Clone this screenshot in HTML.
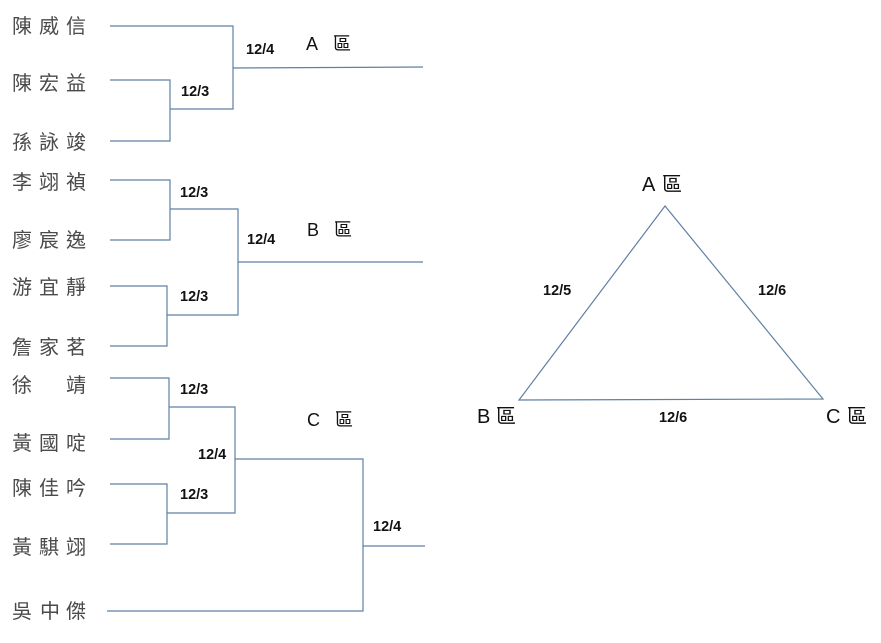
<!DOCTYPE html>
<html><head><meta charset="utf-8">
<style>
html,body{margin:0;padding:0;background:#fff;}
svg{display:block;}
.n{font-family:"Liberation Sans","Noto Sans CJK TC",sans-serif;font-size:20px;fill:#4a4a4a;}
.d{font-family:"Liberation Sans",sans-serif;font-size:14.5px;font-weight:bold;fill:#111;}
.z{font-family:"Liberation Sans","Noto Sans CJK TC",sans-serif;font-size:18px;fill:#111;}
.t{font-family:"Liberation Sans","Noto Sans CJK TC",sans-serif;font-size:20px;fill:#111;}
</style></head>
<body>
<svg width="881" height="643" viewBox="0 0 881 643" xmlns="http://www.w3.org/2000/svg">
<g fill="none" stroke="#5f80a3" stroke-width="1.2">
<!-- A group -->
<polyline points="110,26 233,26 233,109 170,109"/>
<polyline points="110,80 170,80 170,141 110,141"/>
<line x1="233" y1="68" x2="423" y2="67"/>
<!-- B group -->
<polyline points="110,180 170,180 170,240 110,240"/>
<polyline points="170,209 238,209 238,315 167,315"/>
<polyline points="110,286 167,286 167,346 110,346"/>
<line x1="238" y1="262" x2="423" y2="262"/>
<!-- C group -->
<polyline points="110,378 169,378 169,439 110,439"/>
<polyline points="169,407 235,407 235,513 167,513"/>
<polyline points="110,484 167,484 167,544 110,544"/>
<polyline points="235,459 363,459 363,611 107,611"/>
<line x1="363" y1="546" x2="425" y2="546"/>
<!-- triangle -->
<polygon points="665,206 519,400 823,399"/>
</g>
<!-- names -->
<g class="n">
<text y="33"><tspan x="12">陳</tspan><tspan x="39">威</tspan><tspan x="66">信</tspan></text>
<text y="90"><tspan x="12">陳</tspan><tspan x="39">宏</tspan><tspan x="66">益</tspan></text>
<text y="149"><tspan x="12">孫</tspan><tspan x="39">詠</tspan><tspan x="66">竣</tspan></text>
<text y="189"><tspan x="12">李</tspan><tspan x="39">翊</tspan><tspan x="66">禎</tspan></text>
<text y="247"><tspan x="12">廖</tspan><tspan x="39">宸</tspan><tspan x="66">逸</tspan></text>
<text y="294"><tspan x="12">游</tspan><tspan x="39">宜</tspan><tspan x="66">靜</tspan></text>
<text y="354"><tspan x="12">詹</tspan><tspan x="39">家</tspan><tspan x="66">茗</tspan></text>
<text y="392"><tspan x="12">徐</tspan><tspan x="66">靖</tspan></text>
<text y="450"><tspan x="12">黃</tspan><tspan x="39">國</tspan><tspan x="66">啶</tspan></text>
<text y="495"><tspan x="12">陳</tspan><tspan x="39">佳</tspan><tspan x="66">吟</tspan></text>
<text y="554"><tspan x="12">黃</tspan><tspan x="39">騏</tspan><tspan x="66">翊</tspan></text>
<text y="618"><tspan x="12">吳</tspan><tspan x="40">中</tspan><tspan x="66">傑</tspan></text>
</g>
<!-- date labels -->
<g class="d">
<text x="246" y="54">12/4</text>
<text x="181" y="96">12/3</text>
<text x="180" y="197">12/3</text>
<text x="247" y="244">12/4</text>
<text x="180" y="301">12/3</text>
<text x="180" y="394">12/3</text>
<text x="198" y="459">12/4</text>
<text x="180" y="499">12/3</text>
<text x="373" y="531">12/4</text>
<text x="543" y="295">12/5</text>
<text x="758" y="295">12/6</text>
<text x="659" y="422">12/6</text>
</g>
<!-- zone labels -->
<g class="z">
<text y="50"><tspan x="306">A</tspan><tspan x="333">區</tspan></text>
<text y="236"><tspan x="307">B</tspan><tspan x="334">區</tspan></text>
<text y="426"><tspan x="307">C</tspan><tspan x="335">區</tspan></text>
</g>
<g class="t">
<text y="191"><tspan x="642">A</tspan><tspan x="662">區</tspan></text>
<text y="423"><tspan x="477">B</tspan><tspan x="496">區</tspan></text>
<text y="423"><tspan x="826">C</tspan><tspan x="847">區</tspan></text>
</g>
</svg>
</body></html>
